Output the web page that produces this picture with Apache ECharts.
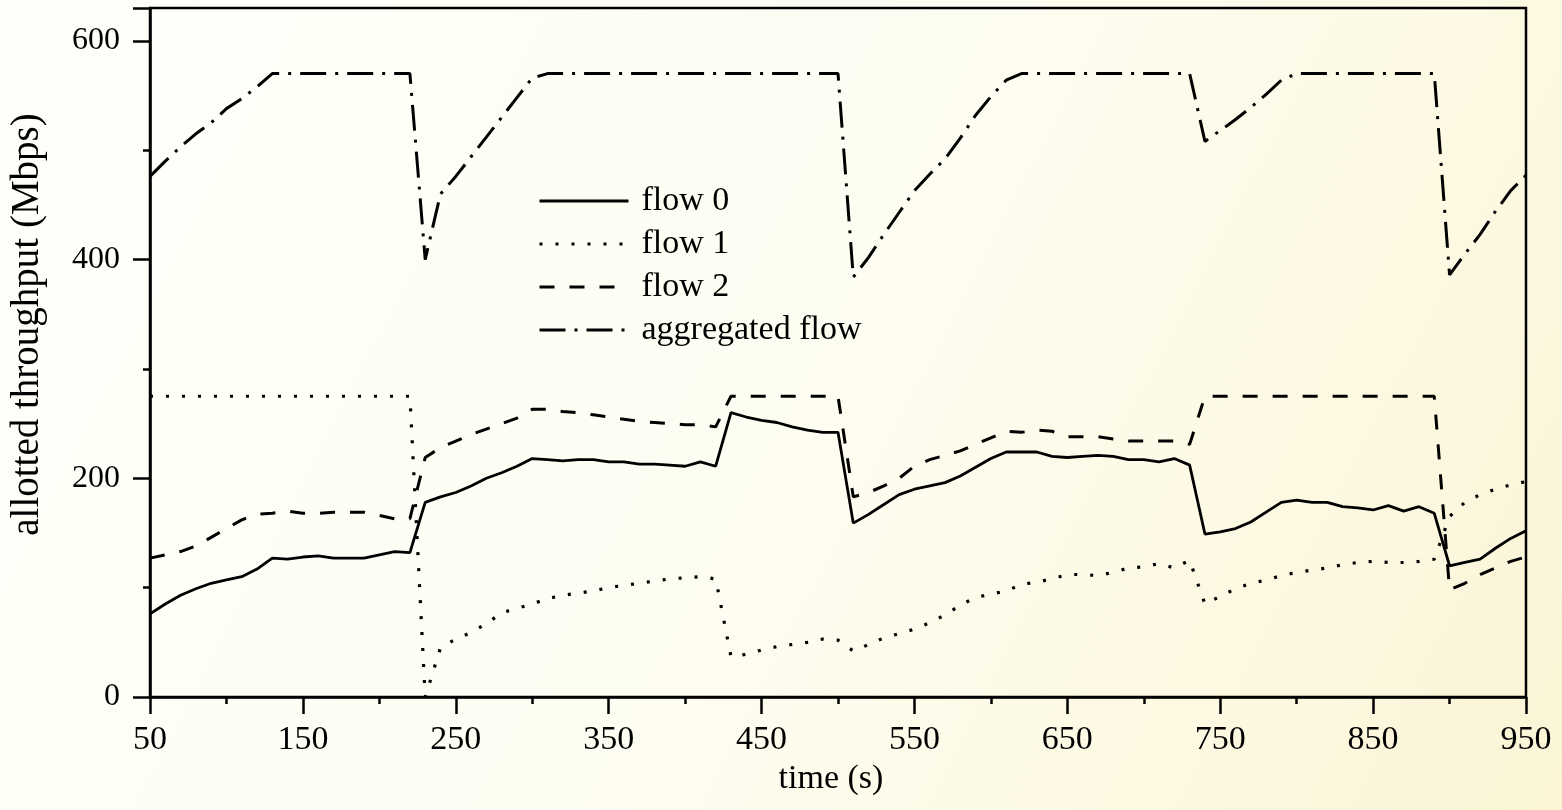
<!DOCTYPE html>
<html>
<head>
<meta charset="utf-8">
<script src="https://cdn.jsdelivr.net/npm/echarts@6/dist/echarts.min.js"></script>
<style>
html,body{margin:0;padding:0;width:1562px;height:810px;overflow:hidden;}
#chart{width:1562px;height:810px;}
</style>
</head>
<body>
<div id="chart"></div>
<script>
// time (s)
const times = [50,60,70,80,90,100,110,120,130,140,150,160,170,180,190,200,210,220,230,240,
  250,260,270,280,290,300,310,320,330,340,350,360,370,380,390,400,410,420,430,440,
  450,460,470,480,490,500,510,520,530,540,550,560,570,580,590,600,610,620,630,640,
  650,660,670,680,690,700,710,720,730,740,750,760,770,780,790,800,810,820,830,840,
  850,860,870,880,890,900,910,920,930,940,950];

const flow0 = [76,85,93,99,104,107,110,117,127,126,128,129,127,127,127,130,133,132,178,183,
  187,193,200,205,211,218,217,216,217,217,215,215,213,213,212,211,215,211,260,256,
  253,251,247,244,242,242,159,167,176,185,190,193,196,202,210,218,224,224,224,220,
  219,220,221,220,217,217,215,218,212,149,151,154,160,169,178,180,178,178,174,173,
  171,175,170,174,168,120,123,126,136,145,152];

const flow1 = [275,275,275,275,275,275,275,275,275,275,275,275,275,275,275,275,275,275,0,45,
  53,59,67,77,81,85,90,93,95,97,100,102,104,106,108,109,110,108,37,39,
  43,46,48,50,53,52,42,48,54,58,62,68,75,84,91,94,97,103,105,108,
  112,112,111,114,118,119,122,118,125,85,92,99,104,107,111,114,116,118,121,123,
  124,123,123,124,126,165,178,185,190,194,197];

const flow2 = [127,130,133,138,146,154,162,167,168,170,168,168,169,169,169,166,163,163,219,228,
  234,240,245,250,255,263,263,261,260,258,256,254,252,251,250,249,249,247,275,275,
  275,275,275,275,275,275,183,187,193,200,211,217,221,225,231,237,243,242,244,243,
  238,238,238,236,234,234,234,234,231,275,275,275,275,275,275,275,275,275,275,275,
  275,275,275,275,275,98,104,112,118,124,128];

const aggregated = [476,490,503,515,525,538,547,558,570,570,570,570,570,570,570,570,570,570,400,460,
  476,494,512,530,548,566,570,570,570,570,570,570,570,570,570,570,570,570,570,570,
  570,570,570,570,570,570,384,402,423,443,463,478,492,511,532,549,564,570,570,570,
  570,570,570,570,570,570,570,570,570,508,518,528,539,551,564,570,570,570,570,570,
  570,570,570,570,570,386,405,423,444,463,477];

const seriesNames = ['flow 0','flow 1','flow 2','aggregated flow'];
const xTicks = [50,150,250,350,450,550,650,750,850,950];
const yTicks = [0,200,400,600];

const FONT = 'Liberation Serif, Times New Roman, serif';
const pairs = arr => times.map((t,i)=>[t, arr[i]]);

const lineStyles = [
  {color:'#000', width:2.8, type:'solid'},
  {color:'#000', width:3.2, type:[3,13], cap:'butt'},
  {color:'#000', width:3, type:[15,15]},
  {color:'#000', width:3, type:[26,9,3,9]}
];
const datasets = [flow0, flow1, flow2, aggregated];

const chart = echarts.init(document.getElementById('chart'));
chart.setOption({
  backgroundColor: new echarts.graphic.LinearGradient(0,0,1,1,[
    {offset:0,color:'#fffffb'},
    {offset:0.5,color:'#fefdf2'},
    {offset:1,color:'#fbf5d6'}
  ]),
  animation:false,
  grid:{left:150, right:36, top:8, bottom:113, show:true, borderColor:'#000', borderWidth:2.5, backgroundColor:'transparent'},
  legend:{
    orient:'vertical', left:533, top:179,
    itemWidth:89, itemHeight:14, itemGap:9,
    itemStyle:{opacity:0},
    lineStyle:{width:3},
    textStyle:{fontFamily:FONT, fontSize:34, lineHeight:34, color:'#000', padding:[0,0,0,8]},
    data: seriesNames
  },
  xAxis:{
    type:'value', min:50, max:950, interval:100,
    name:'time (s)', nameLocation:'middle', nameGap:64,
    nameTextStyle:{fontFamily:FONT, fontSize:34, color:'#000', padding:[0,14,0,0]},
    axisLine:{onZero:false, lineStyle:{color:'#000', width:2.5}},
    axisTick:{show:true, inside:false, length:17, lineStyle:{color:'#000', width:2.5}},
    minorTick:{show:true, splitNumber:2, length:7, lineStyle:{color:'#000', width:2.5}},
    axisLabel:{fontFamily:FONT, fontSize:34, color:'#000', margin:26,
      formatter: v => xTicks.includes(v) ? String(v) : ''},
    splitLine:{show:false}
  },
  yAxis:{
    type:'value', min:0, max:630, interval:200,
    name:'allotted throughput (Mbps)', nameLocation:'middle', nameGap:103,
    nameTextStyle:{fontFamily:FONT, fontSize:39, color:'#000', padding:[0,0,0,56]},
    axisLine:{onZero:false, lineStyle:{color:'#000', width:2.5}},
    axisTick:{show:true, inside:false, length:17, lineStyle:{color:'#000', width:2.5}},
    minorTick:{show:true, splitNumber:2, length:7, lineStyle:{color:'#000', width:2.5}},
    axisLabel:{fontFamily:FONT, fontSize:32, color:'#000', margin:30,
      formatter: v => yTicks.includes(v) ? String(v) : ''},
    splitLine:{show:false}
  },
  series: seriesNames.map((n,i)=>({
    name:n, type:'line', data:pairs(datasets[i]),
    showSymbol:false, symbol:'none',
    lineStyle: lineStyles[i],
    itemStyle:{color:'#000'},
    z: 3
  }))
});
</script>
</body>
</html>
